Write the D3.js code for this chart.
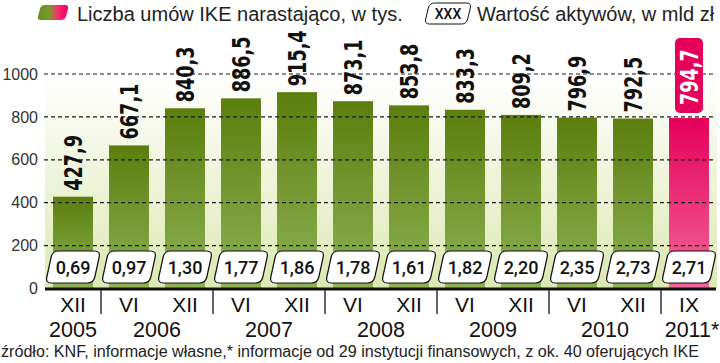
<!DOCTYPE html>
<html><head><meta charset="utf-8">
<script src="https://cdn.jsdelivr.net/npm/d3@7"></script>
<style>
html,body{margin:0;padding:0;background:#fff;}
svg{display:block;}
</style></head>
<body>
<script>
const members = [427.9, 667.1, 840.3, 886.5, 915.4, 873.1, 853.8, 833.3, 809.2, 796.9, 792.5, 794.7];
const assets = [0.69, 0.97, 1.30, 1.77, 1.86, 1.78, 1.61, 1.82, 2.20, 2.35, 2.73, 2.71];
const months = ["XII","VI","XII","VI","XII","VI","XII","VI","XII","VI","XII","IX"];
const years = [
  {label:"2005", from:0, to:0},
  {label:"2006", from:1, to:2},
  {label:"2007", from:3, to:4},
  {label:"2008", from:5, to:6},
  {label:"2009", from:7, to:8},
  {label:"2010", from:9, to:10},
  {label:"2011*", from:11, to:11}
];
const yTicks = [0, 200, 400, 600, 800, 1000];
const legend1 = "Liczba umów IKE narastająco, w tys.";
const legend2 = "Wartość aktywów, w mld zł";
const source = "źródło: KNF, informacje własne,* informacje od 29 instytucji finansowych, z ok. 40 oferujących IKE";
const highlightIndex = 11;

const W = 720, H = 363;
const svg = d3.select("body").append("svg").attr("width", W).attr("height", H);
const defs = svg.append("defs");

const gGreen = defs.append("linearGradient").attr("id","gGreen").attr("x1",0).attr("y1",0).attr("x2",0).attr("y2",1);
gGreen.append("stop").attr("offset","0%").attr("stop-color","#5b7e0e");
gGreen.append("stop").attr("offset","100%").attr("stop-color","#8fb255");
const gPink = defs.append("linearGradient").attr("id","gPink").attr("x1",0).attr("y1",0).attr("x2",0).attr("y2",1);
gPink.append("stop").attr("offset","0%").attr("stop-color","#e5005a");
gPink.append("stop").attr("offset","100%").attr("stop-color","#f3689a");
const gBg = defs.append("linearGradient").attr("id","gBg").attr("x1",0).attr("y1",0).attr("x2",0).attr("y2",1);
gBg.append("stop").attr("offset","0%").attr("stop-color","#ffffff");
gBg.append("stop").attr("offset","100%").attr("stop-color","#dce9b2");
const gLeg = defs.append("linearGradient").attr("id","gLeg").attr("x1",0).attr("y1",0).attr("x2",1).attr("y2",0);
gLeg.append("stop").attr("offset","0%").attr("stop-color","#6a8f1e");
gLeg.append("stop").attr("offset","40%").attr("stop-color","#7a9a30");
gLeg.append("stop").attr("offset","65%").attr("stop-color","#ff2a6e");
gLeg.append("stop").attr("offset","100%").attr("stop-color","#e8005a");

const x = d3.scaleBand().domain(d3.range(members.length)).range([45, 717]).paddingInner(0.286).paddingOuter(0.143);
const y = d3.scaleLinear().domain([0, 1000]).range([288.5, 74]);
const step = x.step();
const cx = i => x(i) + x.bandwidth()/2;
const fmt = v => d3.format(".2f")(v).replace(".", ",");
const fmt1 = v => d3.format(".1f")(v).replace(".", ",");

// plot background
svg.append("rect").attr("x", 45).attr("y", y(1000)).attr("width", 672).attr("height", y(0)-y(1000)).attr("fill","url(#gBg)");

// bars
svg.append("g").selectAll("rect").data(members).join("rect")
  .attr("x", (d,i) => x(i)).attr("y", d => y(d))
  .attr("width", x.bandwidth()).attr("height", d => y(0) - y(d))
  .attr("fill", (d,i) => i === highlightIndex ? "url(#gPink)" : "url(#gGreen)");

// grid
svg.append("g").selectAll("line").data(yTicks.filter(t => t > 0)).join("line")
  .attr("x1", 44).attr("x2", 716).attr("y1", d => y(d)).attr("y2", d => y(d))
  .attr("stroke", "#1a1a1a").attr("stroke-width", 1.2).attr("stroke-dasharray", "4,3");

// y axis labels
const yAxis = d3.axisLeft(y).tickValues(yTicks).tickFormat(d3.format("d")).tickSize(0).tickPadding(0);
const ya = svg.append("g").attr("transform","translate(38,0)").call(yAxis);
ya.select(".domain").remove();
ya.selectAll("text").attr("font-family","Liberation Sans, Arial, sans-serif").attr("font-size",16).attr("fill","#333");

// asset boxes (slanted rounded)
function slantBox(cxv, top, bottom, w, slant, r) {
  const h = bottom - top;
  const xl = cxv - w/2, xr = cxv + w/2;
  const tl = [xl + slant/2, top], tr = [xr + slant/2, top], br = [xr - slant/2, bottom], bl = [xl - slant/2, bottom];
  const k = slant / h;
  return `M${tl[0]+r},${tl[1]} L${tr[0]-r},${tr[1]} Q${tr[0]},${tr[1]} ${tr[0]-k*r},${tr[1]+r}` +
    ` L${br[0]+k*r},${br[1]-r} Q${br[0]},${br[1]} ${br[0]-r},${br[1]}` +
    ` L${bl[0]+r},${bl[1]} Q${bl[0]},${bl[1]} ${bl[0]+k*r},${bl[1]-r}` +
    ` L${tl[0]-k*r},${tl[1]+r} Q${tl[0]},${tl[1]} ${tl[0]+r},${tl[1]} Z`;
}
const boxes = svg.append("g");
boxes.selectAll("path").data(assets).join("path")
  .attr("d", (d,i) => slantBox(cx(i), 251, 283, 48, 7, 6))
  .attr("fill", "#fff").attr("stroke", "#111").attr("stroke-width", 1.2);
boxes.selectAll("text").data(assets).join("text")
  .attr("x", (d,i) => cx(i)).attr("y", 273.5).attr("text-anchor","middle")
  .attr("font-family","Roboto, sans-serif").attr("font-weight",500).attr("font-size",18).attr("fill","#111")
  .text(d => fmt(d));

// axis line
svg.append("line").attr("x1",45).attr("x2",716).attr("y1",289).attr("y2",289).attr("stroke","#111").attr("stroke-width",3);

// year separators
svg.append("g").selectAll("line").data(years.slice(1)).join("line")
  .attr("x1", d => x(d.from) - (step - x.bandwidth())/2).attr("x2", d => x(d.from) - (step - x.bandwidth())/2)
  .attr("y1", 290).attr("y2", 314).attr("stroke","#111").attr("stroke-width",1.3);

// month labels
svg.append("g").selectAll("text").data(months).join("text")
  .attr("x", (d,i) => cx(i)).attr("y", 312).attr("text-anchor","middle")
  .attr("font-family","Liberation Sans, Arial, sans-serif").attr("font-size",21).attr("fill","#111")
  .text(d => d);

// year labels
svg.append("g").selectAll("text").data(years).join("text")
  .attr("x", d => (cx(d.from) + cx(d.to))/2 + (d.label.endsWith("*") ? 3 : 0)).attr("y", 337).attr("text-anchor","middle")
  .attr("font-family","Liberation Sans, Arial, sans-serif").attr("font-size",21.5).attr("fill","#111")
  .text(d => d.label);

// value labels (condensed bold, rotated)
const vl = svg.append("g");
members.forEach((d,i) => {
  const g = vl.append("g").attr("transform", `translate(${cx(i)},${y(d) - 6}) rotate(-90)`);
  if (i === highlightIndex) {
    g.append("rect").attr("x", -1).attr("y", -14).attr("width", 75).attr("height", 28).attr("rx",5)
      .attr("fill","#e5005a");
    g.append("g").attr("transform","translate(7,0) scale(0.8,1)").append("text").attr("x", 0).attr("y", 0).attr("dy","0.36em")
      .attr("font-family","DejaVu Sans Condensed, DejaVu Sans, sans-serif").attr("font-weight","bold")
      .attr("font-size",24.5).attr("fill","#fff").text(fmt1(d));
  } else {
    g.append("g").attr("transform","scale(0.8,1)").append("text").attr("x", 0).attr("y", 0).attr("dy","0.36em")
      .attr("font-family","DejaVu Sans Condensed, DejaVu Sans, sans-serif").attr("font-weight","bold")
      .attr("font-size",24.5).attr("fill","#111").text(fmt1(d));
  }
});

// legend
svg.append("path").attr("d", slantBox(53, 5, 20, 28, 4, 4)).attr("fill","url(#gLeg)");
svg.append("text").attr("x",77).attr("y",21).attr("font-family","Liberation Sans, Arial, sans-serif").attr("font-size",20).attr("fill","#222").text(legend1);
svg.append("path").attr("d", slantBox(448, 3, 24, 42, 5, 5)).attr("fill","#fff").attr("stroke","#111").attr("stroke-width",1);
svg.append("text").attr("x",448).attr("y",19).attr("text-anchor","middle").attr("font-family","Roboto, sans-serif").attr("font-weight",500).attr("font-size",14).attr("fill","#111").text("XXX");
svg.append("text").attr("x",477).attr("y",21).attr("font-family","Liberation Sans, Arial, sans-serif").attr("font-size",20).attr("fill","#222").text(legend2);

// source
svg.append("text").attr("x",1).attr("y",357).attr("font-family","Liberation Sans, Arial, sans-serif").attr("font-size",16)
  .attr("textLength", 698).attr("lengthAdjust","spacingAndGlyphs").attr("fill","#222").text(source);
</script>
</body></html>
